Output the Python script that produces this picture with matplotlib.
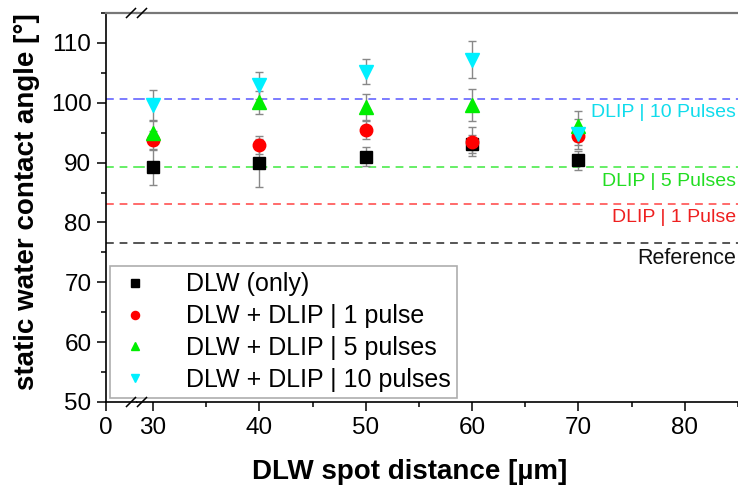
import numpy as np
import matplotlib.pyplot as plt
from matplotlib.ticker import MultipleLocator, NullLocator

plt.rcParams['font.family'] = ['Liberation Sans', 'DejaVu Sans']

spot = [30, 40, 50, 60, 70]
dlw = [89.2, 89.9, 91.0, 93.1, 90.4]
dlw_err = [2.9, 4.0, 1.6, 1.5, 1.6]
p1 = [93.8, 92.9, 95.5, 93.5, 94.4]
p1_err = [1.5, 1.5, 1.5, 2.4, 1.5]
p5 = [95.0, 100.1, 99.3, 99.6, 96.1]
p5_err = [2.0, 1.9, 2.2, 2.7, 2.5]
p10 = [99.6, 102.9, 105.2, 107.2, 94.8]
p10_err = [2.5, 2.3, 2.1, 3.1, 2.5]

ref_levels = [100.6, 89.3, 83.1, 76.6]
ref_names = ['DLIP | 10 Pulses', 'DLIP | 5 Pulses', 'DLIP | 1 Pulse', 'Reference']
ref_label_y = [98.3, 86.9, 80.9, 74.0]
ref_label_size = [14, 14, 14, 15.5]
ref_line_colors = ['#7b7bff', '#66ee66', '#ff6a6a', '#555555']
ref_text_colors = ['#10dcec', '#22dd22', '#ee2020', '#111111']

W, H = 738, 491
fig = plt.figure(figsize=(W / 100, H / 100), dpi=100)
bot = (H - 402) / H
hgt = (402 - 13) / H
axl = fig.add_axes([106 / W, bot, 31 / W, hgt])
axr = fig.add_axes([137 / W, bot, 601 / W, hgt])

for ax in (axl, axr):
    ax.set_ylim(50, 115)
    for lvl, c in zip(ref_levels, ref_line_colors):
        ax.axhline(lvl, color=c, lw=1.4, ls=(0, (4, 3)), zorder=1)
    ax.spines['top'].set_color('#777777')
    ax.spines['top'].set_linewidth(1.6)
    ax.spines['bottom'].set_linewidth(1.2)
    ax.spines['left'].set_linewidth(1.2)
    ax.tick_params(direction='out', length=6.5, width=1.1, labelsize=17.5, pad=4)
    ax.tick_params(which='minor', direction='out', length=3.5, width=1.1)

axl.set_xlim(0, 2.9)
axl.set_xticks([0])
axl.xaxis.set_minor_locator(NullLocator())
axl.spines['right'].set_visible(False)
axl.yaxis.set_major_locator(MultipleLocator(10))
axl.yaxis.set_minor_locator(MultipleLocator(5))

axr.set_xlim(28.5, 85)
axr.xaxis.set_major_locator(MultipleLocator(10))
axr.xaxis.set_minor_locator(MultipleLocator(5))
axr.spines['left'].set_visible(False)
axr.spines['right'].set_visible(False)
axr.tick_params(axis='y', which='both', left=False, labelleft=False)

ekw = dict(ls='none', ecolor='#888888', elinewidth=1.0, capsize=3, capthick=1.0)
series = [
    (dlw, dlw_err, 's', 'black', 'DLW (only)', 8.5),
    (p1, p1_err, 'o', '#ff0000', 'DLW + DLIP | 1 pulse', 9),
    (p5, p5_err, '^', '#00ee00', 'DLW + DLIP | 5 pulses', 9.5),
    (p10, p10_err, 'v', '#00f0ff', 'DLW + DLIP | 10 pulses', 9.5),
]
handles = []
for vals, err, m, c, lab, ms in series:
    axr.errorbar(spot, vals, yerr=err, marker=m, color=c, mec=c, ms=ms,
                 label=lab, zorder=3, **ekw)
    handles.append(plt.Line2D([], [], ls='none', marker=m, color=c, ms=ms * 0.65))

for lab, ty, fs, tc in zip(ref_names, ref_label_y, ref_label_size, ref_text_colors):
    axr.text(0.997, ty, lab, transform=axr.get_yaxis_transform(), ha='right',
             va='center', fontsize=fs, color=tc)

leg = axr.legend(handles, [s[4] for s in series], loc='lower left',
                 bbox_to_anchor=(110 / W, (H - 398) / H), bbox_transform=fig.transFigure,
                 fontsize=18, frameon=True, fancybox=False, edgecolor='#999999',
                 handlelength=1.5, handletextpad=1.3, labelspacing=0.31,
                 borderpad=0.25, borderaxespad=0)
leg.get_frame().set_linewidth(1.2)

# break marks on top and bottom spines
for yp in (13, 402):
    for xc in (131, 142):
        fig.add_artist(plt.Line2D([(xc - 4.5) / W, (xc + 4.5) / W],
                                  [(H - yp - 4.5) / H, (H - yp + 4.5) / H],
                                  color='black', lw=1.1))

fig.text(27 / W, (H - 202) / H, 'static water contact angle [°]', rotation=90,
         ha='center', va='center', fontsize=20, fontweight='bold')
fig.text(410 / W, (H - 472) / H, 'DLW spot distance [µm]', ha='center', va='center',
         fontsize=20, fontweight='bold')

fig.savefig('out.png', dpi=100)
